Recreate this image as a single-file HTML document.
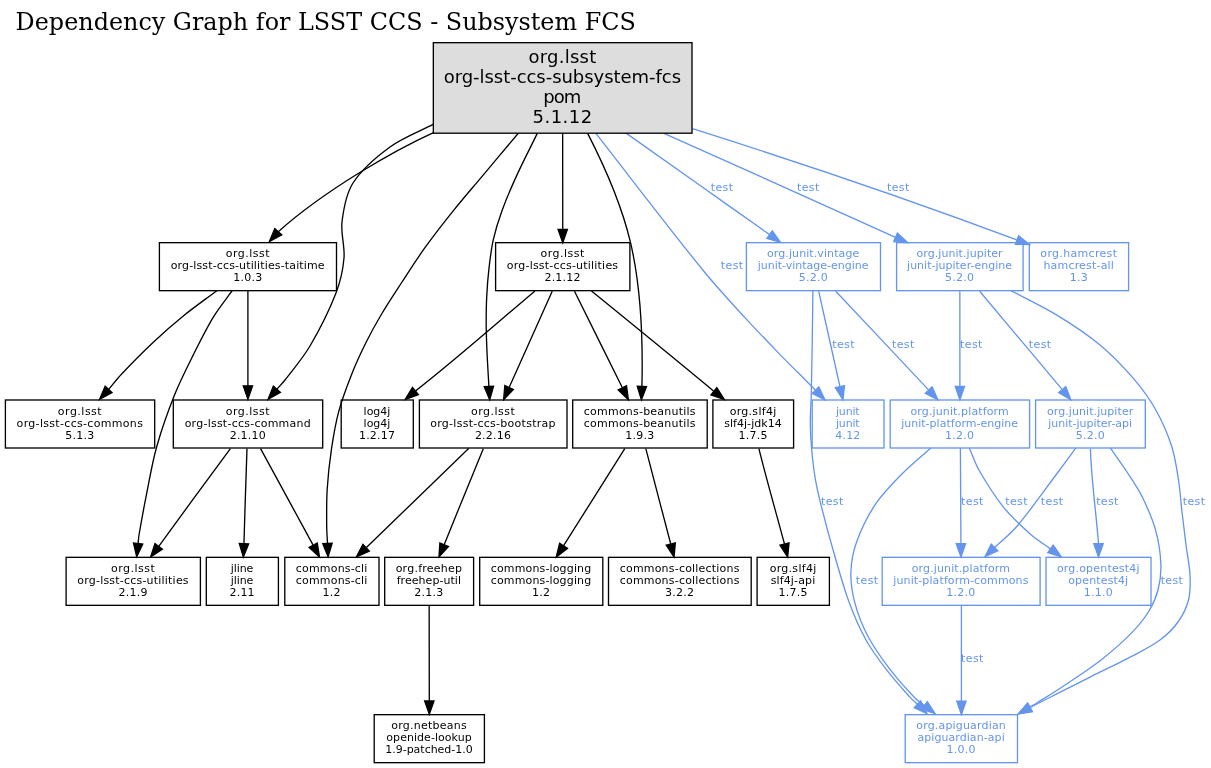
<!DOCTYPE html>
<html lang="en"><head><meta charset="utf-8"><title>Dependency Graph for LSST CCS - Subsystem FCS</title>
<style>
html,body{margin:0;padding:0;background:#fff;overflow:hidden}
svg{display:block;will-change:transform}
.n text,.e text{font-family:"DejaVu Sans","Liberation Sans",sans-serif;font-size:11px;text-anchor:middle}
.r text{font-size:18px}
.t{font-family:"DejaVu Serif","Liberation Serif",serif;font-size:24px}
.n rect{fill:none;stroke:#000;stroke-width:1.33}
.e path{fill:none;stroke:#000;stroke-width:1.33}
.e polygon{fill:#000;stroke:#000;stroke-width:1.33}
.b rect,.b path{stroke:#6495ed}
.b polygon{fill:#6495ed;stroke:#6495ed}
.b text{fill:#6495ed}
</style></head>
<body>
<svg width="1211" height="768" viewBox="0 0 1211 768">
<rect width="1211" height="768" fill="#fff"/>
<text class="t" x="15.6" y="30.2" textLength="620.3" lengthAdjust="spacingAndGlyphs">Dependency Graph for LSST CCS - Subsystem FCS</text>
<g class="e"><path d="M433.5,132.6C395,150 325,190 278.3,231.7"/><polygon points="274.83,228.58 269.4,241.6 281.77,234.82"/></g>
<g class="e"><path d="M433.5,124.2C419,131.8 403.08,137.44 390,147 376.25,157.04 361.96,168.99 353,183 345.96,193.99 343.59,208.77 342,222 340.59,233.77 345,246.14 344,258 343,269.81 340.29,281.91 336,293 328.95,311.24 319.91,329.09 310,346 302.91,358.09 293.55,368.84 285,380 282.52,383.24 279.6,386.13 276.91,389.19"/><polygon points="273.4,386.11 268.1,399.2 280.41,392.28"/></g>
<g class="e"><path d="M518.5,133C506.3,147.53 494.09,162.06 481.9,176.6 472.32,188.02 462.51,199.26 453.2,210.9 443.41,223.13 433.74,235.49 424.6,248.2 416.58,259.35 409.22,270.99 401.7,282.5 394.89,292.93 387.97,303.3 381.6,314 376.07,323.3 370.81,332.81 366,342.5 360.81,352.94 355.88,363.56 351.6,374.4 346.78,386.59 342.11,398.96 338.7,411.6 335.41,423.79 333.36,436.39 331.5,448.9 329.53,462.19 328.03,475.6 327.2,489 326.43,501.36 326.63,513.8 326.7,526.2 326.73,531.97 327.23,537.72 327.49,543.48"/><polygon points="322.83,543.7 328.1,556.8 332.16,543.27"/></g>
<g class="e"><path d="M562.66,133.35C562.67,162.8 562.73,201.03 562.75,228.99"/><polygon points="567.42,229.32 562.75,242.66 558.08,229.32"/></g>
<g class="e"><path d="M537.3,133.4C530.27,147.8 522.86,162.03 516.2,176.6 511.06,187.86 506.13,199.27 501.9,210.9 498.49,220.27 495.49,229.88 493.3,239.6 491.19,248.98 490.1,258.63 489,268.2 487.9,277.73 487.17,287.32 486.7,296.9 486.23,306.42 486.15,315.97 486.2,325.5 486.25,334.33 486.63,343.17 487,352 487.33,360 487.85,368 488.3,376 488.49,379.47 488.71,382.93 488.91,386.39"/><polygon points="484.25,386.67 489.7,399.7 493.58,386.12"/></g>
<g class="e"><path d="M587.76,133.62C603.12,163.47 621.46,204.21 630.55,242.67 641.83,290.93 642.81,349.26 641.91,386.37"/><polygon points="646.58,386.57 641.4,399.72 637.24,386.21"/></g>
<g class="e b"><path d="M595.9,133.4C631.53,178.93 666.46,225.06 702.8,270 716.06,286.39 730.47,301.84 744.7,317.4 756.57,330.38 768.85,342.98 781.1,355.6 789.49,364.24 798.11,372.66 806.6,381.2 809.58,384.2 812.55,387.22 815.53,390.22"/><polygon points="812.21,393.51 824.9,399.7 818.85,386.94"/><text x="732" y="268.5" textLength="22.3">test</text></g>
<g class="e b"><path d="M692.47,128.71C782.83,157.15 903.72,197.54 1016.78,239.95"/><polygon points="1018.66,235.67 1029.55,244.66 1015.43,244.43"/><text x="898.1" y="190.6" textLength="22.3">test</text></g>
<g class="e b"><path d="M626.4,133.4C650.63,150.53 674.86,167.67 699.1,184.8 719.4,199.14 739.7,213.46 760,227.8 763.21,230.07 766.41,232.33 769.62,234.6"/><polygon points="766.92,238.42 780.5,242.3 772.31,230.79"/><text x="721.9" y="190.6" textLength="22.3">test</text></g>
<g class="e b"><path d="M663.94,133.35C737.58,165.93 832.65,209.23 895.52,237.34"/><polygon points="897.38,233.06 907.74,242.66 893.65,241.62"/><text x="808.1" y="190.6" textLength="22.3">test</text></g>
<g class="e"><path d="M232.2,290.7C226,299.37 219.12,307.61 213.6,316.7 206.32,328.68 200.07,341.34 193.8,353.9 187.04,367.44 180.11,380.97 174.5,395 167.74,411.9 161.65,429.19 156.7,446.7 152.38,461.96 149.82,477.72 146.7,493.3 143.92,507.16 141.39,521.07 139,535 138.52,537.79 138.4,540.63 138.1,543.44"/><polygon points="133.46,542.95 136.7,556.7 142.75,543.94"/></g>
<g class="e"><path d="M247.9,290.7C247.9,303.8 247.9,316.9 247.9,330 247.9,343.33 247.9,356.67 247.9,370 247.9,375.29 247.9,380.58 247.9,385.87"/><polygon points="243.23,385.87 247.9,399.2 252.57,385.87"/></g>
<g class="e"><path d="M216.8,290.7C205.83,298.97 194.56,306.86 183.9,315.5 173.66,323.79 163.71,332.48 154.1,341.5 143.04,351.88 132.35,362.71 121.9,373.7 117.18,378.66 113.03,384.14 108.59,389.36"/><polygon points="105.14,386.21 99.6,399.2 112.04,392.5"/></g>
<g class="e"><path d="M230.39,448.63C211.06,474.54 180.59,516.39 158.92,546.08"/><polygon points="162.42,549.17 150.65,557 154.97,543.54"/></g>
<g class="e"><path d="M246.99,448.63C245.95,473.73 244.91,513.81 243.95,543.33"/><polygon points="248.59,543.88 243.35,557 239.27,543.46"/></g>
<g class="e"><path d="M260.56,448.63C274.23,474.19 297.09,515.27 312.98,544.9"/><polygon points="317.27,543.04 319.5,557 309.06,547.48"/></g>
<g class="e"><path d="M591.5,290.96C624.13,317.48 677.67,361.02 713.48,390.89"/><polygon points="716.8,387.59 724.3,399.56 710.98,394.88"/></g>
<g class="e"><path d="M552.22,291.3C540.9,316.75 522.43,357.58 509.24,387.19"/><polygon points="513.35,389.44 503.6,399.67 504.84,385.59"/></g>
<g class="e"><path d="M535,290.96C503.48,317.48 454.12,361.02 415.65,390.89"/><polygon points="418.44,394.65 405.18,399.56 412.49,387.45"/></g>
<g class="e"><path d="M574.5,291.3C587.16,316.86 607.6,357.94 622.26,387.57"/><polygon points="626.51,385.65 628.35,399.67 618.18,389.85"/></g>
<g class="e"><path d="M758.92,448.63C765.01,473.85 776.51,514.18 784.42,543.73"/><polygon points="789.02,542.93 787.65,557 779.96,545.14"/></g>
<g class="e"><path d="M468.85,448.29C441.49,474.58 397.35,517.61 366.41,547.46"/><polygon points="369.33,551.13 356.42,556.89 362.93,544.34"/></g>
<g class="e"><path d="M483.28,448.63C472.66,474.08 456.24,514.91 444.27,544.52"/><polygon points="448.47,546.56 438.95,557 439.88,542.89"/></g>
<g class="e"><path d="M429.15,605.96C429.16,631.06 429.26,671.15 429.3,700.67"/><polygon points="433.97,701 429.3,714.34 424.63,701"/></g>
<g class="e"><path d="M624.76,448.63C608.25,474.41 582.45,516.01 563.62,545.69"/><polygon points="567.45,548.37 556.25,557 559.62,543.28"/></g>
<g class="e"><path d="M645.82,448.63C652.15,473.85 663.02,514.18 670.7,543.73"/><polygon points="675.32,542.92 674.05,557 666.26,545.21"/></g>
<g class="e b"><path d="M818.72,291.3C824.3,316.52 833.35,356.85 839.9,386.4"/><polygon points="844.51,385.63 842.9,399.67 835.41,387.68"/><text x="843.4" y="347.7" textLength="22.3">test</text></g>
<g class="e b"><path d="M812.9,290.4C812.7,306 812.54,321.6 812.3,337.2 812.01,356.3 811.74,375.4 811.3,394.5 811.08,404.04 810.26,413.57 810.3,423.1 810.33,431.24 810.79,439.39 811.5,447.5 812.39,457.59 813.46,467.71 815.1,477.7 816.56,486.61 818.61,495.44 820.8,504.2 824.91,520.6 829.31,536.95 834,553.2 838.75,569.65 843.19,586.26 849.1,602.3 853.85,615.2 859.34,628.01 866,640 871.91,650.64 879.37,660.51 886.8,670.2 893.84,679.38 901.67,687.98 909.4,696.6 911.88,699.36 914.74,701.76 917.41,704.34"/><polygon points="914.17,707.7 927,713.6 920.66,700.98"/><text x="832.1" y="505" textLength="22.3">test</text></g>
<g class="e b"><path d="M835.73,291.3C860.34,317.54 900.78,360.17 928.55,389.91"/><polygon points="932.05,386.8 937.9,399.67 925.31,393.25"/><text x="903.1" y="347.7" textLength="22.3">test</text></g>
<g class="e b"><path d="M930.9,447.9C921.23,456.6 911.01,464.75 901.9,474 892.54,483.51 882.86,493.17 875.5,504.2 867.76,515.8 861.34,528.81 856.6,541.9 853.14,551.44 851.22,561.98 850.9,572.1 850.58,582.12 852.12,592.57 854.7,602.3 857.79,613.93 862.27,625.54 867.9,636.2 874.23,648.18 882.36,659.39 890.6,670.2 898.06,679.99 906.48,689.15 915,698 917.77,700.88 921.33,702.93 924.49,705.4"/><polygon points="921.62,709.08 935,713.6 927.36,701.72"/><text x="867" y="583.7" textLength="22.3">test</text></g>
<g class="e b"><path d="M969.3,447.9C972.5,455.27 974.9,463.07 978.9,470 986.33,482.87 994.3,495.74 1003.6,507.3 1011.6,517.24 1021.23,526.02 1030.8,534.5 1036.87,539.88 1043.94,544.08 1050.51,548.87"/><polygon points="1047.77,552.65 1061.3,556.7 1053.25,545.09"/><text x="1016.4" y="505" textLength="22.3">test</text></g>
<g class="e b"><path d="M960.4,448.2C960.5,465.47 960.6,482.73 960.7,500 960.78,514.56 960.85,529.11 960.93,543.67"/><polygon points="956.26,543.69 961,557 965.6,543.65"/><text x="972.2" y="505" textLength="22.3">test</text></g>
<g class="e b"><path d="M961.4,605.5C961.4,620.33 961.4,635.17 961.4,650 961.4,667.02 961.4,684.05 961.4,701.07"/><polygon points="956.73,701.07 961.4,714.4 966.07,701.07"/><text x="972.2" y="662.4" textLength="22.3">test</text></g>
<g class="e b"><path d="M1010.5,290.4C1026.23,298.8 1042.49,306.34 1057.7,315.6 1072.33,324.51 1086.83,334.02 1100,344.9 1111.76,354.62 1122.52,365.84 1132.5,377.4 1140.96,387.2 1148.9,397.78 1155.3,409 1161.94,420.64 1167.44,433.26 1171.6,446 1175.17,456.93 1176.7,468.59 1178.5,480 1180.17,490.59 1180.77,501.34 1182,512 1183.27,523.01 1184.6,534.01 1186,545 1187.27,555.01 1189.54,564.97 1190,575 1190.38,583.3 1190.53,592.06 1188.5,600 1186.53,607.73 1182.65,615.48 1178,622 1173.15,628.81 1166.75,634.98 1160,640 1151.45,646.35 1141.58,651.06 1132.1,656.1 1118.74,663.2 1105.03,669.62 1091.5,676.4 1080.23,682.05 1068.95,687.7 1057.7,693.4 1050.12,697.24 1042.55,701.11 1035,705 1033.34,705.85 1031.71,706.75 1030.06,707.63"/><polygon points="1027.87,703.51 1018.3,713.9 1032.26,711.75"/><text x="1193.9" y="505" textLength="22.3">test</text></g>
<g class="e b"><path d="M959.85,291.3C959.85,316.4 959.89,356.48 959.9,386"/><polygon points="964.57,386.33 959.9,399.67 955.23,386.33"/><text x="971.2" y="347.7" textLength="22.3">test</text></g>
<g class="e b"><path d="M979.69,291.3C1001.54,317.31 1036.9,359.43 1061.88,389.13"/><polygon points="1065.74,386.49 1070.85,399.67 1058.65,392.55"/><text x="1040" y="347.7" textLength="22.3">test</text></g>
<g class="e b"><path d="M1110.3,447.9C1115.87,455.93 1121.67,463.82 1127,472 1132.33,480.18 1138.02,488.25 1142.3,497 1147.62,507.89 1152.6,519.25 1155.8,530.9 1158.8,541.85 1160.48,553.48 1160.9,564.8 1161.21,573.18 1160.09,581.9 1158,590 1156.12,597.3 1152.94,604.56 1149,611 1144.3,618.69 1138.42,625.92 1132.1,632.4 1122.66,642.08 1112.33,651.1 1101.7,659.5 1090.9,668.03 1079.25,675.53 1067.8,683.2 1057.35,690.2 1046.64,696.8 1036,703.5 1033.97,704.78 1031.86,705.93 1029.79,707.15"/><polygon points="1027.43,703.12 1018.3,713.9 1032.16,711.17"/><text x="1171.8" y="583.7" textLength="22.3">test</text></g>
<g class="e b"><path d="M1090.45,448.63C1090.79,473.73 1096.18,513.81 1098.5,543.33"/><polygon points="1103.17,543.66 1098.5,557 1093.83,543.66"/><text x="1107.3" y="505" textLength="22.3">test</text></g>
<g class="e b"><path d="M1075.9,447.9C1070.47,455.27 1065.1,462.68 1059.6,470 1045.53,488.72 1032.22,508.12 1017.2,526 1010.54,533.93 1002.11,540.28 994.57,547.42"/><polygon points="991.32,544.07 985,556.7 997.82,550.77"/><text x="1052" y="505" textLength="22.3">test</text></g>
<g class="n r"><rect x="433.33" y="42.67" width="258.67" height="90.53" style="fill:#ddd"/><text x="562.37" y="63.07" textLength="67.7">org.lsst</text><text x="562.37" y="83.07" textLength="237.3">org-lsst-ccs-subsystem-fcs</text><text x="562.37" y="103.07" textLength="38">pom</text><text x="562.37" y="123.07" textLength="59.5">5.1.12</text></g>
<g class="n"><rect x="159.4" y="242.67" width="177.1" height="48"/><text x="247.65" y="257" textLength="43.81">org.lsst</text><text x="247.65" y="269" textLength="153.9">org-lsst-ccs-utilities-taitime</text><text x="247.65" y="281" textLength="29">1.0.3</text></g>
<g class="n"><rect x="173.3" y="400" width="149.4" height="48"/><text x="247.7" y="415" textLength="43.81">org.lsst</text><text x="247.7" y="427" textLength="126.1">org-lsst-ccs-command</text><text x="247.7" y="439" textLength="36">2.1.10</text></g>
<g class="n"><rect x="284.8" y="557.33" width="94.2" height="48"/><text x="331.6" y="572" textLength="71.5">commons-cli</text><text x="331.6" y="584" textLength="71.5">commons-cli</text><text x="331.6" y="596" textLength="18">1.2</text></g>
<g class="n"><rect x="495.6" y="242.67" width="134.3" height="48"/><text x="562.45" y="257" textLength="43.81">org.lsst</text><text x="562.45" y="269" textLength="111.28">org-lsst-ccs-utilities</text><text x="562.45" y="281" textLength="36">2.1.12</text></g>
<g class="n"><rect x="419.4" y="400" width="147.6" height="48"/><text x="492.9" y="415" textLength="43.81">org.lsst</text><text x="492.9" y="427" textLength="125.28">org-lsst-ccs-bootstrap</text><text x="492.9" y="439" textLength="36">2.2.16</text></g>
<g class="n"><rect x="572.7" y="400" width="134.5" height="48"/><text x="639.65" y="415" textLength="111.68">commons-beanutils</text><text x="639.65" y="427" textLength="111.68">commons-beanutils</text><text x="639.65" y="439" textLength="29">1.9.3</text></g>
<g class="n b"><rect x="812.2" y="400" width="71.8" height="48"/><text x="847.8" y="415" textLength="23.7">junit</text><text x="847.8" y="427" textLength="23.7">junit</text><text x="847.8" y="439" textLength="25">4.12</text></g>
<g class="n b"><rect x="1029.3" y="242.67" width="99.3" height="48"/><text x="1078.65" y="257" textLength="76.63">org.hamcrest</text><text x="1078.65" y="269" textLength="70.5">hamcrest-all</text><text x="1078.65" y="281" textLength="18">1.3</text></g>
<g class="n b"><rect x="746.4" y="242.67" width="134.1" height="48"/><text x="813.15" y="257" textLength="92.2">org.junit.vintage</text><text x="813.15" y="269" textLength="110.94">junit-vintage-engine</text><text x="813.15" y="281" textLength="29">5.2.0</text></g>
<g class="n b"><rect x="896.6" y="242.67" width="126.5" height="48"/><text x="959.55" y="257" textLength="86.2">org.junit.jupiter</text><text x="959.55" y="269" textLength="104.94">junit-jupiter-engine</text><text x="959.55" y="281" textLength="29">5.2.0</text></g>
<g class="n"><rect x="66.1" y="557.33" width="134.3" height="48"/><text x="132.95" y="572" textLength="43.81">org.lsst</text><text x="132.95" y="584" textLength="111.28">org-lsst-ccs-utilities</text><text x="132.95" y="596" textLength="29">2.1.9</text></g>
<g class="n"><rect x="5.4" y="400" width="149.3" height="48"/><text x="79.75" y="415" textLength="43.81">org.lsst</text><text x="79.75" y="427" textLength="126.28">org-lsst-ccs-commons</text><text x="79.75" y="439" textLength="29">5.1.3</text></g>
<g class="n"><rect x="206.3" y="557.33" width="72.1" height="48"/><text x="242.05" y="572" textLength="22.7">jline</text><text x="242.05" y="584" textLength="22.7">jline</text><text x="242.05" y="596" textLength="25">2.11</text></g>
<g class="n"><rect x="712.9" y="400" width="80.7" height="48"/><text x="752.95" y="415" textLength="46.63">org.slf4j</text><text x="752.95" y="427" textLength="57.5">slf4j-jdk14</text><text x="752.95" y="439" textLength="29">1.7.5</text></g>
<g class="n"><rect x="341.2" y="400" width="72.1" height="48"/><text x="376.95" y="415" textLength="26.7">log4j</text><text x="376.95" y="427" textLength="26.7">log4j</text><text x="376.95" y="439" textLength="36">1.2.17</text></g>
<g class="n"><rect x="757.1" y="557.33" width="72.3" height="48"/><text x="792.95" y="572" textLength="46.63">org.slf4j</text><text x="792.95" y="584" textLength="44.5">slf4j-api</text><text x="792.95" y="596" textLength="29">1.7.5</text></g>
<g class="n"><rect x="384.7" y="557.33" width="88.9" height="48"/><text x="428.85" y="572" textLength="66.45">org.freehep</text><text x="428.85" y="584" textLength="64.32">freehep-util</text><text x="428.85" y="596" textLength="29">2.1.3</text></g>
<g class="n"><rect x="374.2" y="714.67" width="110.2" height="48"/><text x="429" y="729" textLength="75.63">org.netbeans</text><text x="429" y="741" textLength="85.32">openide-lookup</text><text x="429" y="753" textLength="87.44">1.9-patched-1.0</text></g>
<g class="n"><rect x="479.7" y="557.33" width="123.1" height="48"/><text x="540.95" y="572" textLength="100.5">commons-logging</text><text x="540.95" y="584" textLength="100.5">commons-logging</text><text x="540.95" y="596" textLength="18">1.2</text></g>
<g class="n"><rect x="608.5" y="557.33" width="142.7" height="48"/><text x="679.55" y="572" textLength="119.68">commons-collections</text><text x="679.55" y="584" textLength="119.68">commons-collections</text><text x="679.55" y="596" textLength="29">3.2.2</text></g>
<g class="n b"><rect x="905.2" y="714.67" width="112.3" height="48"/><text x="961.05" y="729" textLength="89.45">org.apiguardian</text><text x="961.05" y="741" textLength="87.32">apiguardian-api</text><text x="961.05" y="753" textLength="29">1.0.0</text></g>
<g class="n b"><rect x="890.2" y="400" width="139.4" height="48"/><text x="959.6" y="415" textLength="98.2">org.junit.platform</text><text x="959.6" y="427" textLength="116.94">junit-platform-engine</text><text x="959.6" y="439" textLength="29">1.2.0</text></g>
<g class="n b"><rect x="1046" y="557.33" width="105" height="48"/><text x="1098.2" y="572" textLength="82.63">org.opentest4j</text><text x="1098.2" y="584" textLength="59.88">opentest4j</text><text x="1098.2" y="596" textLength="29">1.1.0</text></g>
<g class="n b"><rect x="882.2" y="557.33" width="157.9" height="48"/><text x="960.85" y="572" textLength="98.2">org.junit.platform</text><text x="960.85" y="584" textLength="135.12">junit-platform-commons</text><text x="960.85" y="596" textLength="29">1.2.0</text></g>
<g class="n b"><rect x="1035.6" y="400" width="109.7" height="48"/><text x="1090.15" y="415" textLength="86.2">org.junit.jupiter</text><text x="1090.15" y="427" textLength="83.94">junit-jupiter-api</text><text x="1090.15" y="439" textLength="29">5.2.0</text></g>
</svg>
</body></html>
